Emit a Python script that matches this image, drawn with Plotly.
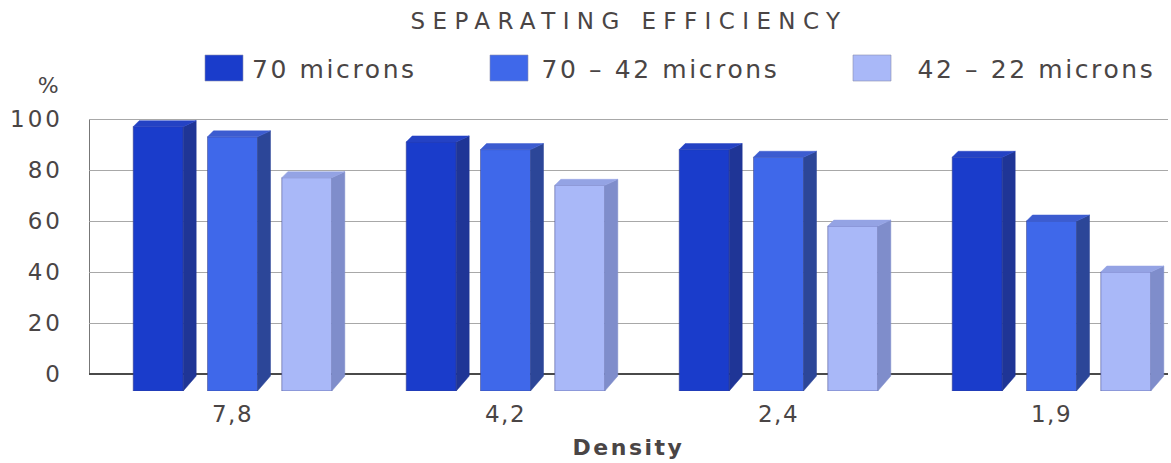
import plotly.graph_objects as go

categories = ["7,8", "4,2", "2,4", "1,9"]
series_names = ["70 microns", "70 – 42 microns", "42 – 22 microns"]
series_values = [
    [97, 91, 88, 85],
    [93, 88, 85, 60],
    [77, 74, 58, 40],
]
y_ticks = [0, 20, 40, 60, 80, 100]
front_colors = ["#1a3ccb", "#3f68ea", "#a9b8f8"]
side_colors = ["#1f3596", "#2c4698", "#7f8dcb"]
top_colors = ["#2442c4", "#3c5cd0", "#94a3e4"]
legend_box_x = [205, 490, 853]
legend_text_cx = [334, 660, 1036]

W, H = 1171, 463
PX_LEFT, PX_RIGHT, PX_TOP, PX_BOTTOM = 89, 1168, 100, 391
PX_PER_GROUP = 273.0
PX_PER_UNIT = 2.55
CENTER0 = 232.5
x_range = [(PX_LEFT - CENTER0) / PX_PER_GROUP, (PX_RIGHT - CENTER0) / PX_PER_GROUP]
y_bottom = (374 - PX_BOTTOM) / PX_PER_UNIT
y_top = (374 - PX_TOP) / PX_PER_UNIT

slot = 74.3 / PX_PER_GROUP
bar_w = 50 / PX_PER_GROUP
dx_side = 13 / PX_PER_GROUP
dx_top = 6 / PX_PER_GROUP
dy_top = 6 / PX_PER_UNIT
y_back_base = (374 - 376) / PX_PER_UNIT
TEXT = "#4a4545"

group_x = list(range(len(categories)))
fig = go.Figure()
for s, (name, values) in enumerate(zip(series_names, series_values)):
    xs = [g + (s - 1) * slot for g in group_x]
    for x, v in zip(xs, values):
        l, r = x - bar_w / 2, x + bar_w / 2
        fig.add_trace(go.Scatter(
            x=[r, r + dx_side, r + dx_side, r, r],
            y=[v, v + dy_top, y_back_base, y_bottom, v],
            fill="toself", fillcolor=side_colors[s], mode="lines",
            line=dict(color=side_colors[s], width=0.5),
            showlegend=False, hoverinfo="skip"))
        fig.add_trace(go.Scatter(
            x=[l, l + dx_top, r + dx_side, r, l],
            y=[v, v + dy_top, v + dy_top, v, v],
            fill="toself", fillcolor=top_colors[s], mode="lines",
            line=dict(color=top_colors[s], width=0.5),
            showlegend=False, hoverinfo="skip"))
    fig.add_trace(go.Bar(
        x=xs, y=[v - y_bottom for v in values], base=y_bottom, width=bar_w,
        name=name, marker=dict(color=front_colors[s],
                               line=dict(color="#3a3f80", width=0.5)),
        showlegend=False, customdata=values,
        hovertemplate=name + ": %{customdata}%<extra></extra>"))

shapes = [dict(type="line", xref="x", yref="y", x0=x_range[0], x1=x_range[0],
               y0=0, y1=100, line=dict(color="#4a4a4a", width=1.5), layer="below")]
PLOT_W, PLOT_H = PX_RIGHT - PX_LEFT, PX_BOTTOM - PX_TOP
annotations = [
    dict(text="%", xref="paper", yref="paper",
         x=(49 - PX_LEFT) / PLOT_W, y=(PX_BOTTOM - 86) / PLOT_H,
         xanchor="center", yanchor="middle", showarrow=False,
         font=dict(family="DejaVu Sans", size=22, color=TEXT)),
]
for s, name in enumerate(series_names):
    shapes.append(dict(type="rect", xref="paper", yref="paper",
                       x0=(legend_box_x[s] - PX_LEFT) / PLOT_W,
                       x1=(legend_box_x[s] + 38 - PX_LEFT) / PLOT_W,
                       y0=(PX_BOTTOM - 81) / PLOT_H,
                       y1=(PX_BOTTOM - 55) / PLOT_H,
                       fillcolor=front_colors[s], line=dict(color="#8a8fb0", width=0.6)))
    annotations.append(dict(
        text=name, xref="paper", yref="paper",
        x=(legend_text_cx[s] - PX_LEFT) / PLOT_W,
        y=(PX_BOTTOM - 70) / PLOT_H,
        xanchor="center", yanchor="middle", showarrow=False,
        font=dict(family="DejaVu Sans", size=25, color=TEXT)))

fig.update_layout(
    width=W, height=H,
    margin=dict(l=PX_LEFT, r=W - PX_RIGHT, t=PX_TOP, b=H - PX_BOTTOM, pad=0),
    paper_bgcolor="white", plot_bgcolor="white",
    title=dict(text="SEPARATING EFFICIENCY", x=629 / W, xanchor="center",
               y=1 - 21 / H, yanchor="middle",
               font=dict(family="DejaVu Sans", size=23, color=TEXT)),
    xaxis=dict(range=x_range, tickvals=group_x, ticktext=categories,
               showgrid=False, zeroline=False, showline=False, ticks="",
               ticklabelstandoff=7,
               tickfont=dict(family="DejaVu Sans", size=23, color=TEXT),
               title=dict(text="Density", standoff=13,
                          font=dict(family="DejaVu Sans", size=22, color=TEXT, weight="bold"))),
    yaxis=dict(range=[y_bottom, y_top], tickvals=y_ticks, showgrid=True,
               gridcolor="#a8a8a8", gridwidth=1, zeroline=True,
               zerolinecolor="#4a4a4a", zerolinewidth=1.5, showline=False,
               ticks="", ticklabelstandoff=25,
               tickfont=dict(family="DejaVu Sans", size=23, color=TEXT)),
    shapes=shapes, annotations=annotations,
)
spacing_js = """
document.body.style.margin='0';
function sp(sel, v){document.querySelectorAll(sel).forEach(function(e){e.style.letterSpacing=v;});}
sp('.gtitle','7.4px');
sp('.annotation-text','2.6px');
sp('.ytick text','3px');
sp('.xtick text','1.5px');
sp('.xtitle','2.5px');
"""
fig.write_html("out.html", config=dict(displayModeBar=False), post_script=spacing_js)
